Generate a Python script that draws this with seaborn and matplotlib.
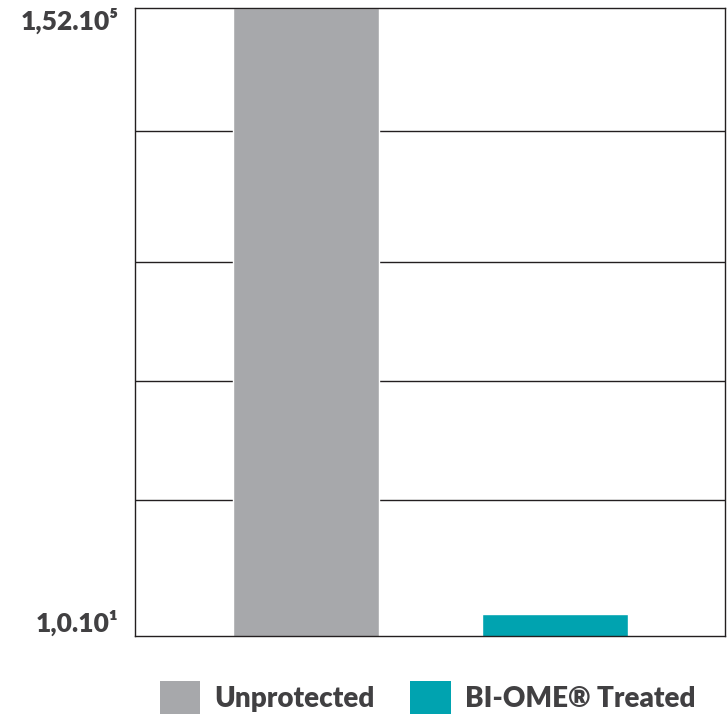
"""Bar chart: unprotected vs BI-OME treated (log scale)."""

import pandas as pd
import seaborn as sns
import matplotlib.pyplot as plt
from matplotlib.patches import Patch

# --- Data -----------------------------------------------------------------
groups = ["Unprotected", "BI-OME® Treated"]
counts = [152000, 14]
colors = ["#A7A8AB", "#00A3B0"]
grid_values = [80, 500, 3100, 23000]
y_min, y_max = 10, 152000
tick_labels = ["1,0.10¹", "1,52.10⁵"]

TEXT = "#414042"


def main() -> None:
    df = pd.DataFrame({"group": groups, "count": counts})

    sns.set_style("white")
    plt.rcParams["font.family"] = ["Lato", "DejaVu Sans"]

    fig = plt.figure(figsize=(7.27, 7.18), dpi=100)
    ax = fig.add_axes([0.1857, 0.1142, 0.8115, 0.8748])
    ax.set_yscale("log")

    sns.barplot(
        data=df, x="group", y="count", hue="group",
        palette=colors, width=0.59, saturation=1, legend=False, ax=ax,
    )

    ax.set_xlim(-0.687, 1.683)
    ax.set_ylim(y_min, y_max)
    ax.set_xticks([])
    ax.set_xlabel("")
    ax.set_ylabel("")

    ax.minorticks_off()
    ax.set_yticks([y_min, y_max])
    ax.set_yticklabels(tick_labels, fontsize=19, fontweight="heavy", color=TEXT)
    ax.tick_params(axis="y", length=0, pad=12)
    lbls = ax.get_yticklabels()
    lbls[0].set_va("bottom")
    lbls[1].set_va("top")
    for v in grid_values:
        ax.axhline(v, color="#231F20", lw=1.0, zorder=0)

    for sp in ax.spines.values():
        sp.set_visible(True)
        sp.set_color("#231F20")
        sp.set_linewidth(1.0)

    handles = [Patch(facecolor=c, edgecolor="none", label=g) for g, c in zip(groups, colors)]
    fig.legend(
        handles=handles, loc="center", bbox_to_anchor=(0.588, 0.028), ncol=2,
        frameon=False, handlelength=1.45, handleheight=1.45, handletextpad=0.5,
        columnspacing=1.3, prop={"size": 20, "weight": "heavy"}, labelcolor=TEXT,
    )

    fig.savefig("out.png", dpi=100)


if __name__ == "__main__":
    main()
